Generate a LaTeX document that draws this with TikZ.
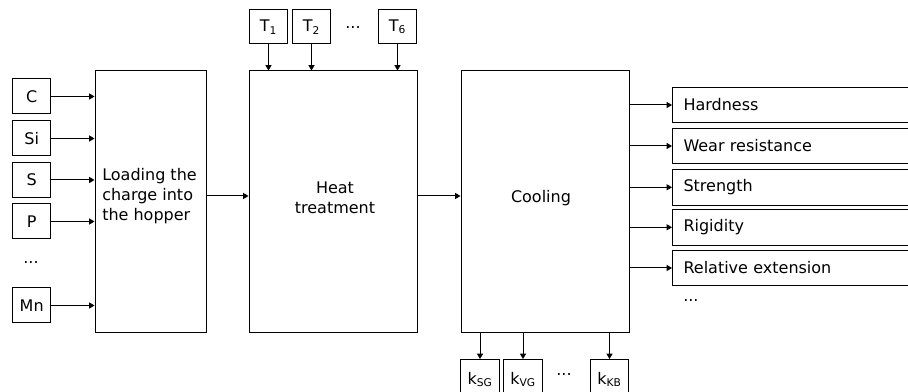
\documentclass[tikz,border=0pt]{standalone}
\usepackage{fontspec}
\setmainfont{DejaVu Sans}
\usetikzlibrary{arrows.meta,calc}
\tikzset{
  box/.style={draw=black, line width=0.75pt, rectangle, inner sep=0pt, font=\fontsize{12}{15}\selectfont},
  inbox/.style={box, minimum width=28.5pt, minimum height=26.25pt},
  tbox/.style={box, minimum width=28.8pt, minimum height=25.5pt},
  kbox/.style={box, minimum width=28.7pt, minimum height=30pt},
  bigbox/.style={box, minimum height=196.5pt},
  outbox/.style={box, draw=none, anchor=west, text width=155pt, inner xsep=8.25pt, inner ysep=0pt, minimum height=25.9pt, align=left},
  openedge/.style={line width=0.75pt, black},
  lbl/.style={font=\fontsize{12}{15}\selectfont, inner sep=0pt},
  arr/.style={line width=0.75pt, -{Triangle[length=4pt,width=4.5pt]}}
}
\begin{document}
\begin{tikzpicture}[x=0.75pt,y=-0.75pt]
\useasboundingbox (0,0) rectangle (908,392);
% main blocks
\node[bigbox, minimum width=83.25pt] (load) at (150.5,202) {};
\node[lbl, anchor=west, align=left] (loadtxt) at (102,196.5) {Loading the\\charge into\\the hopper};
\node[bigbox, minimum width=126pt] (heat) at (333,202) {};
\node[lbl, align=center] (heattxt) at (335,197.5) {Heat\\treatment};
\node[bigbox, minimum width=126pt] (cool) at (545,202) {};
\node[lbl] (cooltxt) at (541,198) {Cooling};
% inputs
\node[inbox] (c) at (31.7,96.5) {C};
\node[inbox] (si) at (31.7,138.5) {Si};
\node[inbox] (s) at (31.7,180) {S};
\node[inbox] (p) at (31.7,221.5) {P};
\node[lbl] (indots) at (31,263) {...};
\node[inbox] (mn) at (31.7,305.5) {Mn};
\foreach \n in {c,si,s,p,mn} {
  \draw[arr] (\n.east) -- (\n.east -| load.west);
}
% top inputs
\node[tbox] (t1) at (268.5,27) {T\textsubscript{1}};
\node[tbox] (t2) at (311.5,27) {T\textsubscript{2}};
\node[lbl] (tdots) at (353,28) {...};
\node[tbox] (t6) at (397.5,27) {T\textsubscript{6}};
\foreach \n in {t1,t2,t6} {
  \draw[arr] (\n.south) -- (\n.south |- heat.north);
}
% chain arrows
\draw[arr] ([yshift=4.5pt]load.east) -- ([yshift=4.5pt]heat.west);
\draw[arr] ([yshift=4.5pt]heat.east) -- ([yshift=4.5pt]cool.west);
% outputs (boxes run past the right edge of the picture)
\node[outbox] (o1) at (672,105) {Hardness};
\node[outbox] (o2) at (672,146) {Wear resistance};
\node[outbox] (o3) at (672,187.3) {Strength};
\node[outbox] (o4) at (672,227.3) {Rigidity};
\node[outbox] (o5) at (672,268) {Relative extension};
\node[lbl, anchor=west] (odots) at (683,301) {...};
\foreach \n in {o1,o2,o3,o4,o5} {
  \draw[openedge] ([xshift=12pt]\n.north east) -- (\n.north west) -- (\n.south west) -- ([xshift=12pt]\n.south east);
  \draw[arr] (\n.west -| cool.east) -- (\n.west);
}
% bottom outputs
\node[kbox] (ksg) at (480,379.5) {k\textsubscript{SG}};
\node[kbox] (kvg) at (523,379.5) {k\textsubscript{VG}};
\node[lbl] (kdots) at (564,375) {...};
\node[kbox] (kkb) at (609.5,379.5) {k\textsubscript{KB}};
\foreach \n in {ksg,kvg,kkb} {
  \draw[arr] (\n.north |- cool.south) -- (\n.north);
}
\end{tikzpicture}
\end{document}
